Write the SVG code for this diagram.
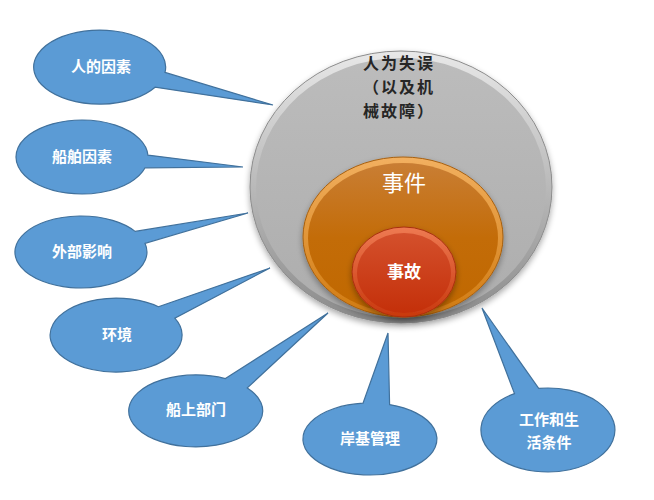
<svg xmlns="http://www.w3.org/2000/svg" width="654" height="500" viewBox="0 0 654 500">
<defs>
<style>
.bub{fill:#5b9bd5;stroke:#41719c;stroke-width:1.2}
.bt{font-family:"Noto Sans CJK SC","Noto Sans",sans-serif;font-weight:bold;font-size:15px;fill:#ffffff;text-anchor:middle}
.dark{font-family:"Noto Sans CJK SC","Noto Sans",sans-serif;font-weight:bold;font-size:16px;fill:#262626;letter-spacing:2px}
</style>
<linearGradient id="gOut" x1="0" y1="0" x2="0" y2="1">
<stop offset="0" stop-color="#e8e8e8"/><stop offset="1" stop-color="#8a8a8a"/>
</linearGradient>
<linearGradient id="gIn" x1="0" y1="0" x2="0" y2="1">
<stop offset="0" stop-color="#bcbcbc"/><stop offset="1" stop-color="#adadad"/>
</linearGradient>
<linearGradient id="oOut" x1="0" y1="0" x2="0" y2="1">
<stop offset="0" stop-color="#f2b060"/><stop offset="1" stop-color="#d07a10"/>
</linearGradient>
<linearGradient id="oIn" x1="0" y1="0" x2="0" y2="1">
<stop offset="0" stop-color="#c97e34"/><stop offset="0.5" stop-color="#c36c08"/><stop offset="1" stop-color="#c06800"/>
</linearGradient>
<linearGradient id="rOut" x1="0" y1="0" x2="0" y2="1">
<stop offset="0" stop-color="#ee7a52"/><stop offset="1" stop-color="#c8380e"/>
</linearGradient>
<linearGradient id="rIn" x1="0" y1="0" x2="0" y2="1">
<stop offset="0" stop-color="#d4502c"/><stop offset="1" stop-color="#c4300a"/>
</linearGradient>
<filter id="sh" x="-10%" y="-10%" width="120%" height="125%">
<feGaussianBlur in="SourceAlpha" stdDeviation="3"/>
<feOffset dx="0" dy="3" result="b"/>
<feComponentTransfer><feFuncA type="linear" slope="0.35"/></feComponentTransfer>
<feMerge><feMergeNode/><feMergeNode in="SourceGraphic"/></feMerge>
</filter>
</defs>
<rect width="654" height="500" fill="#ffffff"/>

<g id="connectors"></g>

<g id="outer">
<ellipse cx="401" cy="187" rx="151" ry="136" fill="url(#gOut)" stroke="#8c8c8c" stroke-width="1" filter="url(#sh)"/>
<ellipse cx="401" cy="188" rx="145" ry="130" fill="url(#gIn)"/>
<text class="dark" x="363" y="69">人为失误</text>
<text class="dark" x="363" y="93">（以及机</text>
<text class="dark" x="363" y="117">械故障）</text>
</g>

<g id="middle">
<ellipse cx="403" cy="237" rx="100" ry="80" fill="url(#oOut)" stroke="#a86010" stroke-width="1" filter="url(#sh)"/>
<ellipse cx="403" cy="238" rx="95" ry="75" fill="url(#oIn)"/>
<text x="404" y="191" font-family="'Noto Sans CJK SC',sans-serif" font-size="22" fill="#ffffff" text-anchor="middle">事件</text>
</g>

<g id="inner">
<ellipse cx="404" cy="272" rx="52" ry="45" fill="url(#rOut)" stroke="#a83010" stroke-width="1" filter="url(#sh)"/>
<ellipse cx="404" cy="273" rx="47" ry="40" fill="url(#rIn)"/>
<text x="404" y="278" font-family="'Noto Sans CJK SC',sans-serif" font-weight="bold" font-size="17" fill="#ffffff" text-anchor="middle">事故</text>
</g>

<g id="n1">
<path class="bub" d="M165,72.4 L273,105 L155.1,87.2 A66,37 0 1 1 165,72.4 Z"/>
<text class="bt" x="101" y="72">人的因素</text>
</g>
<g id="n2">
<path class="bub" d="M147.9,155.1 L243,167 L145.1,167.8 A66,37 0 1 1 147.9,155.1 Z"/>
<text class="bt" x="82" y="162">船舶因素</text>
</g>
<g id="n3">
<path class="bub" d="M135.1,231.4 L248,213 L145,243.3 A66,36 0 1 1 135.1,231.4 Z"/>
<text class="bt" x="82" y="257">外部影响</text>
</g>
<g id="n4">
<path class="bub" d="M158.4,306.7 L270,268 L174.8,318.2 A66,37 0 1 1 158.4,306.7 Z"/>
<text class="bt" x="117" y="340">环境</text>
</g>
<g id="n5">
<path class="bub" d="M225.4,378.6 L328,313 L247.3,387.9 A67,36 0 1 1 225.4,378.6 Z"/>
<text class="bt" x="196" y="415">船上部门</text>
</g>
<g id="n6">
<path class="bub" d="M363,403.2 L388,333 L389.6,404.6 A67,36 0 1 1 363,403.2 Z"/>
<text class="bt" x="370" y="444">岸基管理</text>
</g>
<g id="n7">
<path class="bub" d="M514.5,393.6 L482,308 L538.7,388.4 A67,42 0 1 1 514.5,393.6 Z"/>
<text class="bt" x="549" y="425">工作和生</text>
<text class="bt" x="549" y="448">活条件</text>
</g>
</svg>
